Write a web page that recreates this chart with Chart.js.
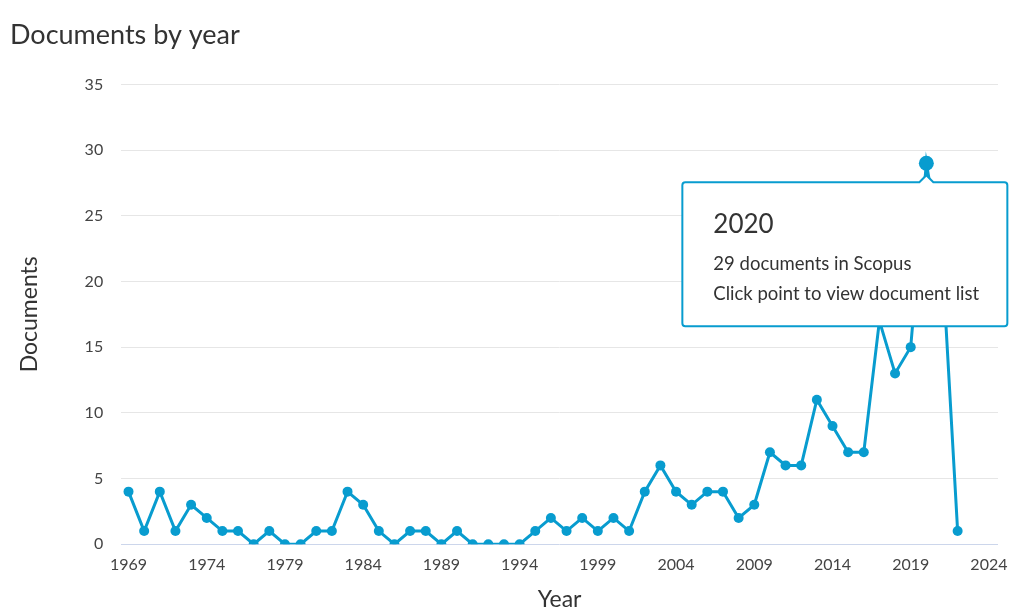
<!DOCTYPE html>
<html>
<head>
<meta charset="utf-8">
<title>Documents by year</title>
<script src="https://cdn.jsdelivr.net/npm/chart.js@4.4.1/dist/chart.umd.min.js"></script>
<style>
  html, body { margin: 0; padding: 0; background: #fff; }
  #wrap { width: 1026px; height: 613px; }
</style>
</head>
<body>
<div id="wrap"><canvas id="docChart" width="1026" height="613"></canvas></div>
<script>
// data
const years = [1969, 1970, 1971, 1972, 1973, 1974, 1975, 1976, 1977, 1978,
  1979, 1980, 1981, 1982, 1983, 1984, 1985, 1986, 1987, 1988,
  1989, 1990, 1991, 1992, 1993, 1994, 1995, 1996, 1997, 1998,
  1999, 2000, 2001, 2002, 2003, 2004, 2005, 2006, 2007, 2008,
  2009, 2010, 2011, 2012, 2013, 2014, 2015, 2016, 2017, 2018,
  2019, 2020, 2021, 2022];
const docs = [4, 1, 4, 1, 3, 2, 1, 1, 0, 1,
  0, 0, 1, 1, 4, 3, 1, 0, 1, 1,
  0, 1, 0, 0, 0, 0, 1, 2, 1, 2,
  1, 2, 1, 4, 6, 4, 3, 4, 4, 2,
  3, 7, 6, 6, 11, 9, 7, 7, 17, 13,
  15, 29, 22, 1];
const xTicks = [1969, 1974, 1979, 1984, 1989, 1994, 1999, 2004, 2009, 2014, 2019, 2024];
const yTicks = [0, 5, 10, 15, 20, 25, 30, 35];

const tipYear = 2020;
const tipLines = ['29 documents in Scopus', 'Click point to view document list'];

const blue = '#089ccf';
const textColor = '#333333';
const fontFam = 'Lato, "Open Sans", sans-serif';

const tipIndex = years.indexOf(tipYear);

// draws the fixed hover box under the 2020 point
const fixedTooltip = {
  id: 'fixedTooltip',
  afterDatasetsDraw(chart) {
    const pt = chart.getDatasetMeta(0).data[tipIndex];
    if (!pt) return;
    const ctx = chart.ctx;
    const px = pt.x, py = pt.y;
    const left = px - 244, right = px + 81;
    const top = py + 19, bottom = py + 163;
    const r = 3;
    ctx.save();
    ctx.beginPath();
    ctx.moveTo(left + r, top);
    ctx.lineTo(px - 7, top);
    ctx.lineTo(px, top - 7);
    ctx.lineTo(px + 7, top);
    ctx.lineTo(right - r, top);
    ctx.arcTo(right, top, right, top + r, r);
    ctx.lineTo(right, bottom - r);
    ctx.arcTo(right, bottom, right - r, bottom, r);
    ctx.lineTo(left + r, bottom);
    ctx.arcTo(left, bottom, left, bottom - r, r);
    ctx.lineTo(left, top + r);
    ctx.arcTo(left, top, left + r, top, r);
    ctx.closePath();
    ctx.fillStyle = '#ffffff';
    ctx.fill();
    ctx.lineWidth = 2;
    ctx.strokeStyle = blue;
    ctx.stroke();
    // little stem up to the point
    ctx.beginPath();
    ctx.moveTo(px, top - 7);
    ctx.lineTo(px, py + 4);
    ctx.stroke();

    ctx.fillStyle = textColor;
    ctx.textAlign = 'left';
    ctx.textBaseline = 'alphabetic';
    ctx.font = '26px ' + fontFam;
    ctx.fillText(String(tipYear), left + 31, top + 51);
    ctx.font = '18.5px ' + fontFam;
    ctx.fillText(tipLines[0], left + 31, top + 88);
    ctx.fillText(tipLines[1], left + 31, top + 118);
    ctx.restore();
  }
};

const ctx = document.getElementById('docChart').getContext('2d');
const docChart = new Chart(ctx, {
  type: 'line',
  data: {
    datasets: [{
      label: 'Documents',
      data: years.map((y, i) => ({ x: y, y: docs[i] })),
      borderColor: blue,
      backgroundColor: blue,
      borderWidth: 3,
      pointRadius: (c) => c.dataIndex === tipIndex ? 7.5 : 5,
      pointHoverRadius: (c) => c.dataIndex === tipIndex ? 7.5 : 5,
      pointBorderWidth: 0,
      tension: 0,
      fill: false
    }]
  },
  plugins: [fixedTooltip],
  options: {
    responsive: false,
    animation: false,
    events: [],
    layout: { padding: { left: 10, right: 28, top: 0, bottom: 0 } },
    plugins: {
      legend: { display: false },
      tooltip: { enabled: false },
      title: {
        display: true,
        text: 'Documents by year',
        align: 'start',
        color: textColor,
        font: { family: fontFam, size: 27, weight: 'normal' },
        padding: { top: 19, bottom: 33 }
      }
    },
    scales: {
      x: {
        type: 'linear',
        min: 1968.53,
        max: 2024.58,
        afterBuildTicks: (axis) => { axis.ticks = xTicks.map(v => ({ value: v })); },
        grid: { display: false, drawTicks: false },
        border: { display: false },
        ticks: {
          color: '#444444',
          font: { family: fontFam, size: 16 },
          padding: 11,
          maxRotation: 0,
          autoSkip: false,
          callback: (v) => String(v)
        },
        title: {
          display: true,
          text: 'Year',
          color: textColor,
          font: { family: fontFam, size: 23 },
          padding: { top: 0, bottom: 0 }
        }
      },
      y: {
        min: 0,
        max: 35,
        afterBuildTicks: (axis) => { axis.ticks = yTicks.map(v => ({ value: v })); },
        grid: {
          drawTicks: false,
          color: (c) => c.tick && c.tick.value === 0 ? '#ccd6eb' : '#e6e6e6',
          lineWidth: 1
        },
        border: { display: false },
        ticks: {
          color: '#444444',
          font: { family: fontFam, size: 16 },
          padding: 18
        },
        title: {
          display: true,
          text: 'Documents',
          color: textColor,
          font: { family: fontFam, size: 23 },
          padding: { top: 6, bottom: 23 }
        }
      }
    }
  }
});
</script>
</body>
</html>
